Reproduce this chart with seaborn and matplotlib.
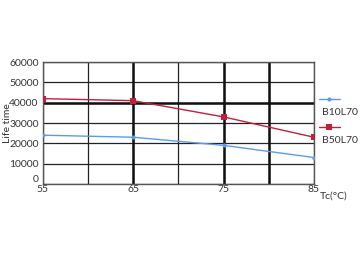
import matplotlib
matplotlib.use("Agg")
import matplotlib.pyplot as plt
import seaborn as sns
import pandas as pd
from matplotlib.lines import Line2D

tc = [55, 65, 75, 85]
b10 = [24000, 23000, 19000, 13000]
b50 = [42000, 41000, 33000, 23000]
series_names = ["B10L70", "B50L70"]
colors = ["#5b9bef", "#c0203a"]
markers = ["o", "s"]
sizes = [3, 5]

sns.set_style("white")
plt.rcParams['font.family'] = ['Lato', 'DejaVu Sans']

df = pd.DataFrame({"tc": tc * 2, "life": b10 + b50,
                   "series": [series_names[0]] * 4 + [series_names[1]] * 4})

fig = plt.figure(figsize=(3.6, 2.62), dpi=100)
ax = fig.add_axes([0.119, 0.298, 0.753, 0.465])

for i, name in enumerate(series_names):
    sub = df[df.series == name]
    sns.lineplot(data=sub, x="tc", y="life", ax=ax, color=colors[i], marker=markers[i],
                 markersize=sizes[i], markeredgewidth=0, linewidth=1.0, legend=False, zorder=3)

ax.set_xlim(55, 85)
ax.set_ylim(0, 60000)
ax.set_xticks([55, 65, 75, 85])
ax.set_xticks([60, 70, 80], minor=True)
ax.set_yticks(range(0, 60001, 10000))
ax.grid(True, which="both", color="#222222", linewidth=0.9)
for v in [65, 75, 80]:
    ax.axvline(v, color="#111111", linewidth=1.8, zorder=2)
ax.axhline(40000, color="#111111", linewidth=1.8, zorder=2)
for s in ax.spines.values():
    s.set_color("#555555")
    s.set_linewidth(1.0)
ax.tick_params(axis="both", which="both", length=0, labelsize=7.5, colors="#333333")
ax.tick_params(axis="y", pad=3)
ax.tick_params(axis="x", pad=1)
ax.set_yticklabels([f"{int(t)}" for t in ax.get_yticks()])
ax.get_yticklabels()[0].set_va("bottom")
ax.set_xlabel("")
ax.set_ylabel("Life time", fontsize=7.5, color="#333333")
ax.yaxis.set_label_coords(-0.115, 0.5)
ax.text(1.02, -0.1, "Tc(°C)", transform=ax.transAxes, fontsize=7.5, color="#333333",
        ha="left", va="center")

# legend
for i, name in enumerate(series_names):
    y = 0.70 - i * 0.23
    ax.add_line(Line2D([1.02, 1.095], [y, y], transform=ax.transAxes, color=colors[i],
                       linewidth=1.0, clip_on=False))
    ax.add_line(Line2D([1.057], [y], transform=ax.transAxes, color=colors[i],
                       marker=markers[i], markersize=sizes[i], markeredgewidth=0, clip_on=False))
    ax.text(1.03, y - 0.11, name, transform=ax.transAxes, fontsize=7.5, color="#333333",
            ha="left", va="center")

fig.savefig("out.png", dpi=100)
